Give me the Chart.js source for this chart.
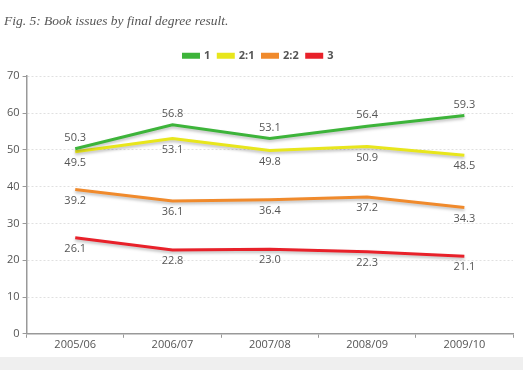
<!DOCTYPE html>
<html>
<head>
<meta charset="utf-8">
<script src="https://cdn.jsdelivr.net/npm/chart.js@4"></script>
<style>
  html, body { margin: 0; padding: 0; }
  body {
    width: 523px; height: 370px; overflow: hidden;
    background: linear-gradient(to bottom, #fff 0, #fff 357px, #efefef 357px, #efefef 370px);
  }
  #chart { display: block; }
</style>
</head>
<body>
<canvas id="chart" width="523" height="370"></canvas>
<script>
const years = ['2005/06', '2006/07', '2007/08', '2008/09', '2009/10'];
const firstClass = [50.3, 56.8, 53.1, 56.4, 59.3];
const upperSecond = [49.5, 53.1, 49.8, 50.9, 48.5];
const lowerSecond = [39.2, 36.1, 36.4, 37.2, 34.3];
const thirdClass = [26.1, 22.8, 23.0, 22.3, 21.1];

const seriesNames = ['1', '2:1', '2:2', '3'];
const seriesColors = ['#3db43a', '#e8e61c', '#f08a2c', '#e8212a'];
// labels above the line only for the first series
const labelAbove = [true, false, false, false];

const chartCanvas = document.querySelector('#chart');

// a little extra room between legend and plot
const legendGap = {
  id: 'legendGap',
  beforeInit(chart) {
    const fit = chart.legend.fit;
    chart.legend.fit = function () {
      fit.bind(chart.legend)();
      this.height += 5;
    };
  }
};

const valueLabels = {
  id: 'valueLabels',
  beforeDatasetsDraw(chart) {
    const ctx = chart.ctx;
    ctx.save();
    ctx.shadowColor = 'rgba(0,0,0,0.25)';
    ctx.shadowBlur = 3;
    ctx.shadowOffsetY = 2;
  },
  afterDatasetsDraw(chart) {
    const ctx = chart.ctx;
    ctx.restore();
    ctx.save();
    ctx.font = '11px "Open Sans"';
    ctx.fillStyle = '#555';
    ctx.textAlign = 'center';
    ctx.textBaseline = 'middle';
    chart.data.datasets.forEach((ds, i) => {
      const meta = chart.getDatasetMeta(i);
      meta.data.forEach((pt, j) => {
        const dy = labelAbove[i] ? -11 : 11;
        ctx.fillText(ds.data[j].toFixed(1), pt.x, pt.y + dy);
      });
    });
    ctx.restore();
  }
};

const allSeries = [firstClass, upperSecond, lowerSecond, thirdClass];

const data = {
  labels: years,
  datasets: allSeries.map((vals, i) => ({
    label: seriesNames[i],
    data: vals,
    borderColor: seriesColors[i],
    backgroundColor: seriesColors[i],
    borderWidth: 3,
    pointRadius: 0,
    tension: 0
  }))
};

new Chart(chartCanvas, {
  type: 'line',
  data: data,
  plugins: [legendGap, valueLabels],
  options: {
    responsive: false,
    animation: false,
    layout: { padding: { top: 0, left: 4, right: 10, bottom: 19 } },
    plugins: {
      tooltip: { enabled: false },
      title: {
        display: true,
        text: 'Fig. 5: Book issues by final degree result.',
        align: 'start',
        color: '#555',
        font: { family: '"Liberation Serif"', style: 'italic', size: 13.5, weight: 'normal' },
        padding: { top: 13, bottom: 13 }
      },
      legend: {
        position: 'top',
        labels: {
          boxWidth: 15,
          boxHeight: 3,
          padding: 8,
          color: '#555',
          font: { family: '"Open Sans"', size: 11, weight: 'bold' }
        }
      }
    },
    scales: {
      x: {
        offset: true,
        grid: { offset: true, drawOnChartArea: false, tickLength: 4, tickColor: '#999' },
        border: { color: '#999', width: 1.5 },
        ticks: { color: '#555', font: { family: '"Open Sans"', size: 11 }, padding: 0 }
      },
      y: {
        min: 0,
        max: 70,
        ticks: { stepSize: 10, color: '#555', font: { family: '"Open Sans"', size: 11 }, padding: 3 },
        grid: { color: '#e0e0e0', tickColor: '#999', tickLength: 4, tickBorderDash: [] },
        border: { color: '#999', width: 1.5, dash: [2, 2] }
      }
    }
  }
});
</script>
</body>
</html>
